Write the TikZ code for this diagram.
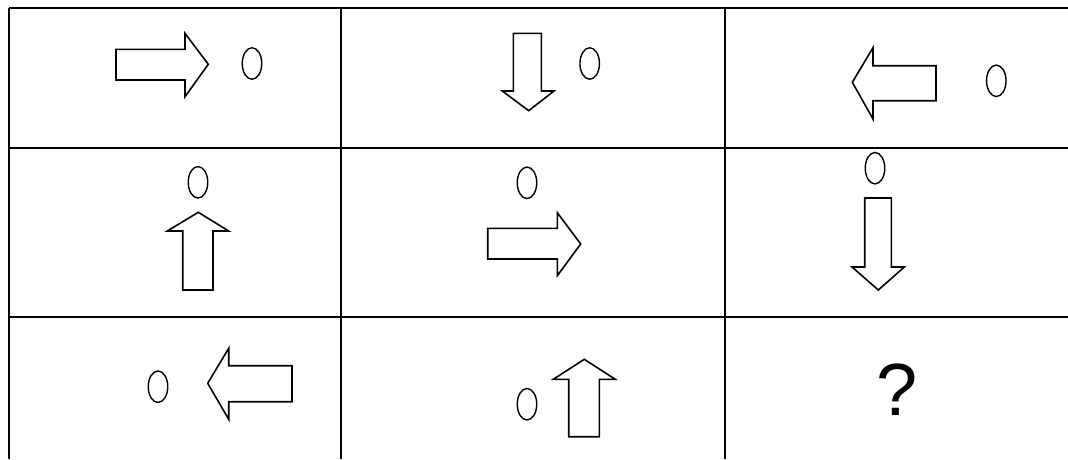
\documentclass[tikz,border=0pt]{standalone}
\usepackage{fontspec}
\setmainfont{Liberation Sans}
\usetikzlibrary{shapes.geometric}
\begin{document}
\begin{tikzpicture}[x=1pt,y=-1pt,
  grid/.style={line width=2.6pt},
  blockarrow/.style={draw,line width=1.6pt,line join=miter,fill=white},
  oval/.style={draw,ellipse,line width=1.4pt,minimum width=19.5pt,minimum height=31.5pt,inner sep=0pt}]
\useasboundingbox (0,0) rectangle (1068,459);
% grid
\draw[grid] (9,8) -- (1068,8);
\draw[grid] (9,148) -- (1068,148);
\draw[grid] (9,317) -- (1068,317);
\draw[grid] (9,8) -- (9,459);
\draw[grid] (341,8) -- (341,459);
\draw[grid] (725,8) -- (725,459);
% row 1
\draw[blockarrow] (116,49.3) -- (185,49.3) -- (185,33.3) -- (208.3,64.3) -- (185,96.7) -- (185,80) -- (116,80) -- cycle;
\node[oval] (o1) at (252,63.5) {};
\draw[blockarrow] (513.3,33.3) -- (541.3,33.3) -- (541.3,91) -- (554,91) -- (528.7,110.7) -- (502.3,91) -- (513.3,91) -- cycle;
\node[oval] (o2) at (589.7,63.5) {};
\draw[blockarrow] (936,65.7) -- (873,65.7) -- (873,47.7) -- (852.3,82.3) -- (873,119) -- (873,100.7) -- (936,100.7) -- cycle;
\node[oval] (o3) at (996.3,80.8) {};
% row 2
\node[oval] (o4) at (198,182.3) {};
\draw[blockarrow] (182.7,290) -- (182.7,231) -- (167.3,231) -- (198.3,212.3) -- (228.7,231) -- (213,231) -- (213,290) -- cycle;
\node[oval] (o5) at (527,182.8) {};
\draw[blockarrow] (487.7,228.3) -- (557.3,228.3) -- (557.3,212.7) -- (580.7,244) -- (557.3,275.7) -- (557.3,259) -- (487.7,259) -- cycle;
\node[oval] (o6) at (875,168.2) {};
\draw[blockarrow] (864.7,198) -- (891.3,198) -- (891.3,267) -- (904.3,267) -- (878.3,290) -- (852,267) -- (864.7,267) -- cycle;
% row 3
\node[oval] (o7) at (158,386.7) {};
\draw[blockarrow] (292,365.7) -- (228.7,365.7) -- (228.7,348.3) -- (207.7,383.3) -- (228.7,419.3) -- (228.7,401.7) -- (292,401.7) -- cycle;
\node[oval] (o8) at (527,404.2) {};
\draw[blockarrow] (568.7,436.7) -- (568.7,379.3) -- (553.3,379.3) -- (584.3,359.3) -- (615.3,379.3) -- (599.3,379.3) -- (599.3,436.7) -- cycle;
\node[font=\fontsize{74}{80}\selectfont,inner sep=0pt] (q) at (896.7,390) {?};
\end{tikzpicture}
\end{document}
